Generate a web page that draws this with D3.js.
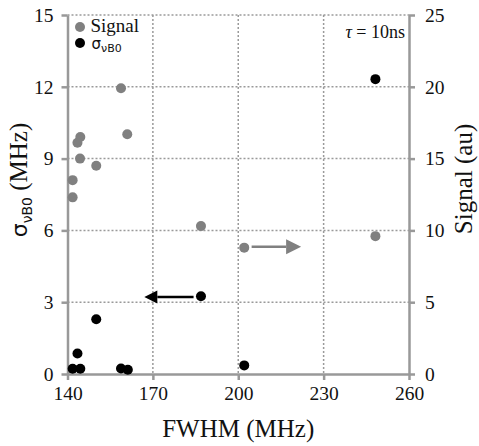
<!DOCTYPE html>
<html>
<head>
<meta charset="utf-8">
<script src="https://cdn.jsdelivr.net/npm/d3@7"></script>
</head>
<body style="margin:0">
<div id="chart"></div>
<script>
// data
const signalFwhm = [141.8, 141.8, 143.5, 144.5, 144.4, 150.1, 158.8, 161.0, 186.9, 202.1, 248.2];
const signalValues = [12.3, 13.5, 16.1, 16.5, 15.0, 14.5, 19.9, 16.7, 10.3, 8.8, 9.6];
const sigmaFwhm = [141.8, 144.5, 143.5, 150.1, 158.8, 161.2, 186.9, 202.1, 248.2];
const sigmaValues = [0.22, 0.22, 0.86, 2.29, 0.23, 0.18, 3.25, 0.36, 12.32];
const xTicks = [140, 170, 200, 230, 260];
const yLeftTicks = [0, 3, 6, 9, 12, 15];
const yRightTicks = [0, 5, 10, 15, 20, 25];
// arrows: [x from, x to, y value]
const sigmaArrow = [184.3, 167.0, 3.22];
const signalArrow = [204.7, 222.1, 8.87];

const W = 479, H = 446;
const margin = { top: 15, right: 70, bottom: 72, left: 67.5 };
const width = W - margin.left - margin.right;
const height = H - margin.top - margin.bottom;

const root = d3.select('#chart').append('svg')
    .attr('width', W)
    .attr('height', H)
    .attr('font-family', 'Liberation Serif');
const svg = root.append('g')
    .attr('transform', `translate(${margin.left},${margin.top})`);

const x = d3.scaleLinear().domain([140, 260]).range([0, width]);
const yL = d3.scaleLinear().domain([0, 15]).range([height, 0]);
const yR = d3.scaleLinear().domain([0, 25]).range([height, 0]);

const axisColor = '#999';
const gridColor = '#9a9a9a';

// grid
svg.append('g').selectAll('line')
    .data(yLeftTicks.filter(d => d > 0))
    .enter().append('line')
    .attr('x1', 0).attr('x2', width)
    .attr('y1', d => yL(d)).attr('y2', d => yL(d))
    .attr('stroke', gridColor).attr('stroke-width', 1.5)
    .attr('stroke-dasharray', '2,2');

svg.append('g').selectAll('line')
    .data(xTicks.filter(d => d > 140 && d < 260))
    .enter().append('line')
    .attr('x1', d => x(d)).attr('x2', d => x(d))
    .attr('y1', 0).attr('y2', height)
    .attr('stroke', gridColor).attr('stroke-width', 1.5)
    .attr('stroke-dasharray', '2,2');

// axes
function styleAxis(g) {
    g.attr('font-family', null).attr('font-size', 19.5);
    g.select('.domain').attr('stroke', axisColor).attr('stroke-width', 2.5);
    g.selectAll('.tick line').attr('stroke', axisColor).attr('stroke-width', 2.5);
    g.selectAll('.tick text').attr('fill', '#111');
}

svg.append('g')
    .attr('transform', `translate(0,${height})`)
    .call(d3.axisBottom(x).tickValues(xTicks).tickSize(6).tickSizeOuter(0).tickPadding(6))
    .call(styleAxis);

svg.append('g')
    .call(d3.axisLeft(yL).tickValues(yLeftTicks).tickSize(6).tickSizeOuter(0).tickPadding(8))
    .call(styleAxis);

svg.append('g')
    .attr('transform', `translate(${width},0)`)
    .call(d3.axisRight(yR).tickValues(yRightTicks).tickSize(6).tickSizeOuter(0).tickPadding(10))
    .call(styleAxis);

// points
svg.append('g').selectAll('circle')
    .data(signalFwhm.map((f, i) => [f, signalValues[i]]))
    .enter().append('circle')
    .attr('cx', d => x(d[0]))
    .attr('cy', d => yR(d[1]))
    .attr('r', 5)
    .attr('fill', '#808080');

svg.append('g').selectAll('circle')
    .data(sigmaFwhm.map((f, i) => [f, sigmaValues[i]]))
    .enter().append('circle')
    .attr('cx', d => x(d[0]))
    .attr('cy', d => yL(d[1]))
    .attr('r', 5)
    .attr('fill', '#000');

// arrows
function arrow(x0, x1, y, color, headLen, headHalf) {
    const dir = Math.sign(x1 - x0);
    svg.append('line')
        .attr('x1', x0).attr('x2', x1 - dir * headLen)
        .attr('y1', y).attr('y2', y)
        .attr('stroke', color).attr('stroke-width', 2.5);
    svg.append('path')
        .attr('d', `M${x1},${y} L${x1 - dir * headLen},${y - headHalf} L${x1 - dir * headLen},${y + headHalf} Z`)
        .attr('fill', color);
}
arrow(x(sigmaArrow[0]), x(sigmaArrow[1]), yL(sigmaArrow[2]), '#000', 13, 6.5);
arrow(x(signalArrow[0]), x(signalArrow[1]), yR(signalArrow[2]), '#808080', 15, 7.5);

// legend
const legend = svg.append('g');
legend.append('circle').attr('cx', 12.5).attr('cy', 12).attr('r', 5).attr('fill', '#808080');
legend.append('text').attr('x', 23).attr('y', 17)
    .attr('font-size', 19).attr('fill', '#111')
    .text('Signal');
legend.append('circle').attr('cx', 12.5).attr('cy', 28).attr('r', 5).attr('fill', '#000');
const lt = legend.append('text').attr('x', 24).attr('y', 34)
    .attr('font-family', 'DejaVu Sans').attr('font-size', 15).attr('fill', '#111');
lt.append('tspan').text('σ');
lt.append('tspan').attr('dy', 3).attr('font-size', 11).text('νB0');

// tau annotation
const tau = svg.append('text')
    .attr('x', width - 4).attr('y', 23)
    .attr('text-anchor', 'end')
    .attr('font-size', 18).attr('fill', '#111');
tau.append('tspan').attr('font-style', 'italic').text('τ');
tau.append('tspan').text(' = 10ns');

// axis titles
svg.append('text')
    .attr('x', width / 2).attr('y', height + 63)
    .attr('text-anchor', 'middle')
    .attr('font-size', 25).attr('fill', '#111')
    .text('FWHM (MHz)');

const yt = svg.append('text')
    .attr('transform', `translate(${-margin.left + 27},${165}) rotate(-90)`)
    .attr('text-anchor', 'middle')
    .attr('font-size', 25).attr('fill', '#111');
yt.append('tspan').attr('font-family', 'DejaVu Sans').attr('font-size', 22).text('σ');
yt.append('tspan').attr('font-family', 'DejaVu Sans').attr('dy', 5).attr('font-size', 14).text('νB0');
yt.append('tspan').attr('dy', -5).text(' (MHz)');

svg.append('text')
    .attr('transform', `translate(${width + 63},${164}) rotate(-90)`)
    .attr('text-anchor', 'middle')
    .attr('font-size', 25).attr('fill', '#111')
    .text('Signal (au)');
</script>
</body>
</html>
